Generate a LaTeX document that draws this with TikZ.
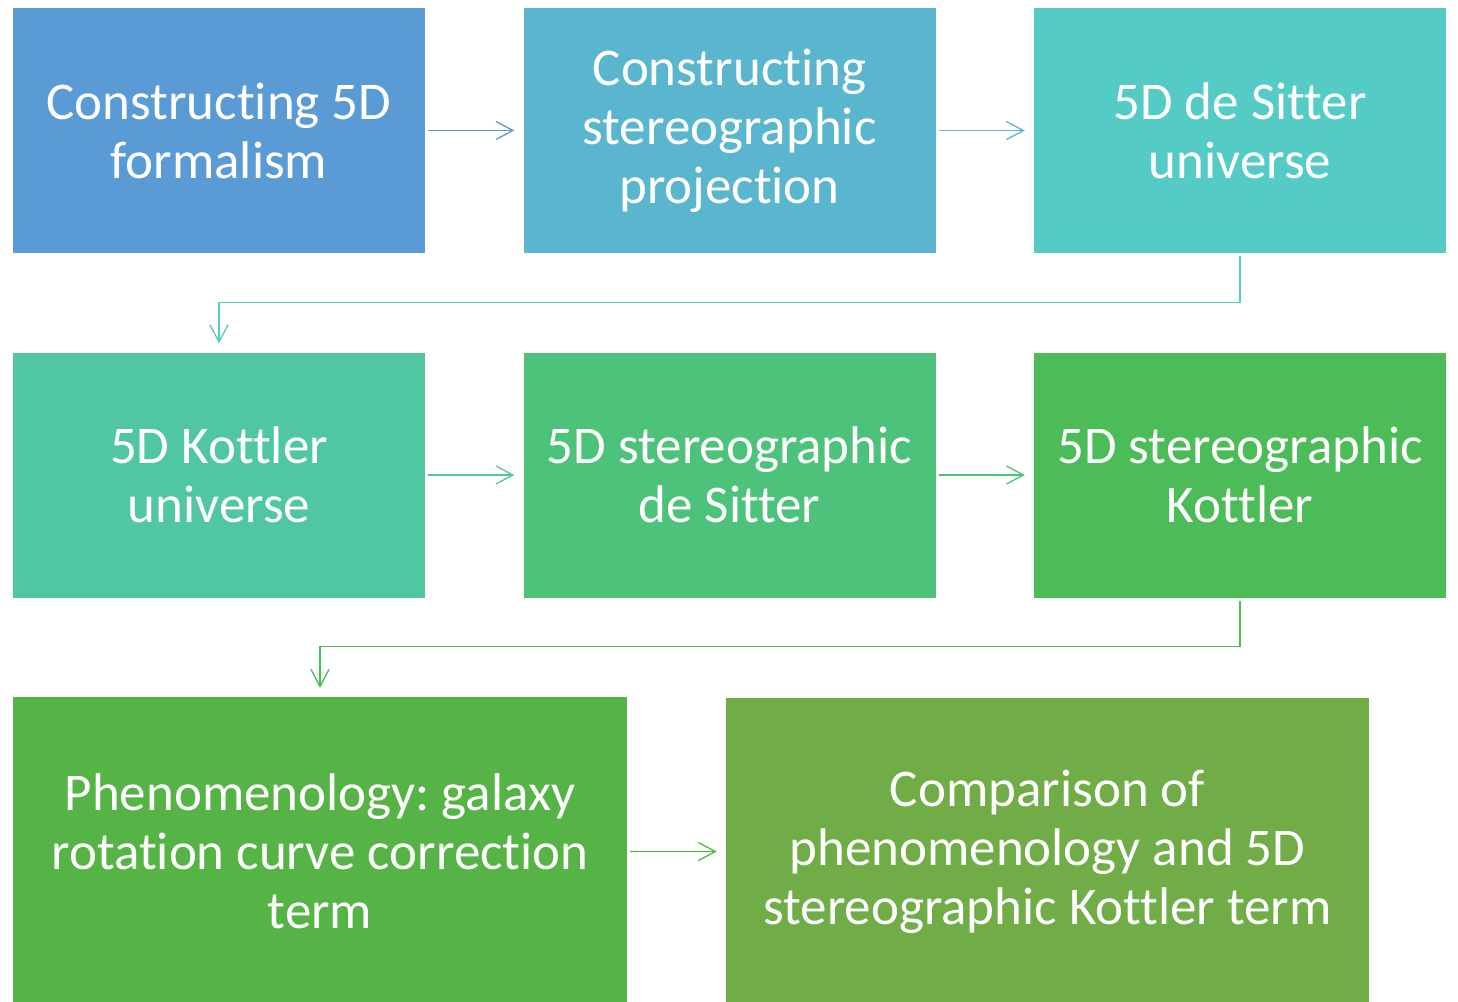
\documentclass[tikz,border=0pt]{standalone}
\usepackage{fontspec}
\setmainfont{Carlito}[Ligatures=NoCommon]
\frenchspacing
\usepackage{xcolor}
\usetikzlibrary{arrows.meta}

\definecolor{stepA}{HTML}{5B9BD5}
\definecolor{stepB}{HTML}{5AB5CF}
\definecolor{stepC}{HTML}{54CBC5}
\definecolor{stepD}{HTML}{50C7A2}
\definecolor{stepE}{HTML}{4DC27B}
\definecolor{stepF}{HTML}{4BBC57}
\definecolor{stepG}{HTML}{56B446}
\definecolor{stepH}{HTML}{70AD47}

\begin{document}
\begin{tikzpicture}[
    x=1pt, y=-1pt,
    box/.style={
      rectangle, align=center, text=white, inner sep=0pt,
      minimum width=412pt, minimum height=245pt,
      font=\fontsize{53}{59}\selectfont
    },
    widebox/.style={box, minimum height=308pt},
    arrow/.style={-{Straight Barb[length=17pt, width=18pt]},
      shorten >=9pt, shorten <=3pt, line width=1.3pt},
  ]
  \useasboundingbox (0,0) rectangle (1458,1001);

  % First row
  \node[box, fill=stepA] (formalism) at (219,130.5) {Constructing 5D\\formalism};
  \node[box, fill=stepB] (projection) at (729.5,130.5) {Constructing\\stereographic\\projection};
  \node[box, fill=stepC] (desitter) at (1240,130.5) {5D de Sitter\\universe};

  % Second row
  \node[box, fill=stepD] (kottler) at (219,475) {5D Kottler\\universe};
  \node[box, fill=stepE] (stdesitter) at (729.5,475) {5D stereographic\\de Sitter};
  \node[box, fill=stepF] (stkottler) at (1240,475) {5D stereographic\\Kottler};

  % Third row (runs off the bottom edge)
  \node[widebox, fill=stepG, minimum width=614pt] (pheno) at (320,851) {Phenomenology: galaxy\\rotation curve correction\\term};
  \node[widebox, fill=stepH, minimum width=643pt] (compare) at (1047.5,852) {Comparison of\\phenomenology and 5D\\stereographic Kottler term};

  % Straight arrows within a row
  \draw[arrow, stepA] (formalism) -- (projection);
  \draw[arrow, stepB] (projection) -- (desitter);
  \draw[arrow, stepD] (kottler) -- (stdesitter);
  \draw[arrow, stepE] (stdesitter) -- (stkottler);
  \draw[arrow, stepG] (pheno) -- (compare);

  % Elbow connectors from the end of a row to the start of the next
  \draw[arrow, stepC] (desitter.south) -- ++(0,49) -| (kottler.north);
  \draw[arrow, stepF] (stkottler.south) -- ++(0,49) -| (pheno.north);

\end{tikzpicture}
\end{document}
